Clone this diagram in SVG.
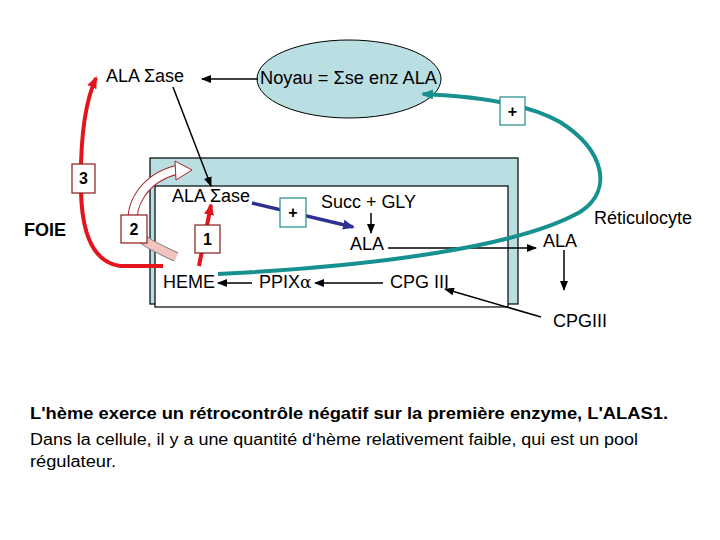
<svg xmlns="http://www.w3.org/2000/svg" width="720" height="540" viewBox="0 0 720 540">
<style>
text{font-family:"Liberation Sans",Arial,sans-serif;font-size:18px;fill:#000}
.b{font-weight:bold}
.n{font-size:16px;font-weight:bold}
.cap{font-size:16px}
.blk{stroke:#000;stroke-width:1.5;fill:none}
.red{stroke:#e3141b;stroke-width:4;fill:none}
.box{fill:#fff;stroke:#8b1a1a;stroke-width:1.2}
.tbox{fill:#fff;stroke:#1f8a8a;stroke-width:1.2}
</style>
<defs>
<marker id="ah" markerWidth="10" markerHeight="8" refX="9" refY="4" orient="auto" markerUnits="userSpaceOnUse"><path d="M0,0 L10,4 L0,8 z" fill="#000"/></marker>
<marker id="ahr" markerWidth="12" markerHeight="10" refX="10" refY="5" orient="auto" markerUnits="userSpaceOnUse"><path d="M0,0 L12,5 L0,10 z" fill="#e3141b"/></marker>
<marker id="aht" markerWidth="12" markerHeight="10" refX="10" refY="5" orient="auto" markerUnits="userSpaceOnUse"><path d="M0,0 L12,5 L0,10 z" fill="#179090"/></marker>
<marker id="ahb" markerWidth="12" markerHeight="10" refX="10" refY="5" orient="auto" markerUnits="userSpaceOnUse"><path d="M0,0 L12,5 L0,10 z" fill="#2e3192"/></marker>
</defs>

<g id="cell">
<rect x="150" y="158" width="368" height="146" fill="#b9dfe3" stroke="#000" stroke-width="1.2"/>
<rect x="155" y="186" width="353" height="121" fill="#fff" stroke="#000" stroke-width="1.2"/>
</g>

<g id="noyau">
<ellipse cx="349" cy="79" rx="92" ry="39" fill="#b9dfe3" stroke="#000" stroke-width="1"/>
<text x="260" y="84" textLength="177" lengthAdjust="spacingAndGlyphs">Noyau = Σse enz ALA</text>
</g>
<g id="alase-top"><text x="106" y="82" textLength="78" lengthAdjust="spacingAndGlyphs">ALA Σase</text></g>
<g id="foie"><text x="24" y="236" class="b">FOIE</text></g>
<g id="alase-in"><text x="172" y="202" textLength="78" lengthAdjust="spacingAndGlyphs">ALA Σase</text></g>
<g id="succ"><text x="321" y="208" textLength="95" lengthAdjust="spacingAndGlyphs">Succ + GLY</text></g>
<g id="ala-in"><text x="350" y="250">ALA</text></g>
<g id="ala-out"><text x="543" y="247">ALA</text></g>
<g id="reti"><text x="594" y="224">Réticulocyte</text></g>
<g id="cpg-out"><text x="553" y="327">CPGIII</text></g>
<g id="cpg-in"><text x="390" y="288">CPG III</text></g>
<g id="ppix"><text x="259" y="288">PPIX<tspan font-family="'DejaVu Serif',serif" font-size="17">α</tspan></text></g>
<g id="heme"><text x="163" y="288">HEME</text></g>

<g id="connectors">
<line x1="258" y1="79" x2="202" y2="79" class="blk" marker-end="url(#ah)"/>
<line x1="173" y1="87" x2="211" y2="186" class="blk" marker-end="url(#ah)"/>
<line x1="371" y1="213" x2="371" y2="233" class="blk" marker-end="url(#ah)"/>
<line x1="388" y1="248" x2="536" y2="248" class="blk" marker-end="url(#ah)"/>
<line x1="564" y1="250" x2="564" y2="290" class="blk" marker-end="url(#ah)"/>
<line x1="541" y1="317" x2="445" y2="289" class="blk" marker-end="url(#ah)"/>
<line x1="383" y1="283" x2="315" y2="283" class="blk" marker-end="url(#ah)"/>
<line x1="252" y1="283" x2="218" y2="283" class="blk" marker-end="url(#ah)"/>
<line x1="252" y1="203" x2="353" y2="227" stroke="#2e3192" stroke-width="3.5" marker-end="url(#ahb)"/>
<path d="M218,274 C380,266 520,246 580,212 C614,190 604,150 560,122 C525,102 470,96 423,94" fill="none" stroke="#179090" stroke-width="4" marker-end="url(#aht)"/>
<line x1="199" y1="266" x2="211" y2="205" class="red" marker-end="url(#ahr)"/>
<path d="M163,266 L120,266 C92,262 82,232 81,192 C80,145 84,104 96,78" class="red" marker-end="url(#ahr)"/>
<path d="M176,257 C158,248 140,242 134,228" fill="none" stroke="#888" stroke-width="10"/>
<path d="M176,257 C158,248 140,242 134,228" fill="none" stroke="#f2c4c0" stroke-width="8"/>
<path d="M134,228 C128,205 145,178 176,170" fill="none" stroke="#a8242a" stroke-width="10"/>
<path d="M134,228 C128,205 145,178 176,170" fill="none" stroke="#fff" stroke-width="8"/>
<polygon points="175,161 192,170 176,180" fill="#fff" stroke="#a8242a" stroke-width="1"/>
</g>

<g id="box1"><rect x="195" y="225" width="25" height="28" class="box"/><text x="207.5" y="245" text-anchor="middle" class="n">1</text></g>
<g id="box2"><rect x="121" y="215" width="26" height="28" class="box"/><text x="134" y="235" text-anchor="middle" class="n">2</text></g>
<g id="box3"><rect x="72" y="164" width="23" height="29" class="box"/><text x="83.5" y="184" text-anchor="middle" class="n">3</text></g>
<g id="plus-blue"><rect x="280" y="198" width="26" height="29" class="tbox"/><text x="293" y="218" text-anchor="middle" class="n">+</text></g>
<g id="plus-teal"><rect x="500" y="97" width="25" height="28" class="tbox"/><text x="512.5" y="117" text-anchor="middle" class="n">+</text></g>

<g id="caption">
<text x="30" y="419" class="b cap" textLength="638" lengthAdjust="spacingAndGlyphs">L'hème exerce un rétrocontrôle négatif sur la première enzyme, L'ALAS1.</text>
<text x="30" y="445" class="cap" textLength="608" lengthAdjust="spacingAndGlyphs">Dans la cellule, il y a une quantité d‘hème relativement faible, qui est un pool</text>
<text x="30" y="467" class="cap" textLength="86" lengthAdjust="spacingAndGlyphs">régulateur.</text>
</g>
</svg>
